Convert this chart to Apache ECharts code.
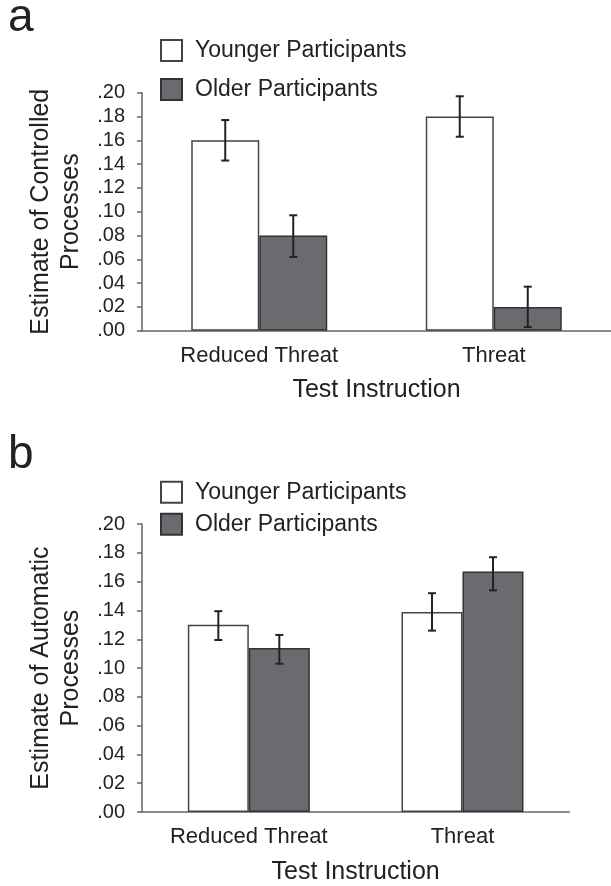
<!DOCTYPE html>
<html>
<head>
<meta charset="utf-8">
<script src="https://cdn.jsdelivr.net/npm/echarts@6/dist/echarts.min.js"></script>
<style>
html,body{margin:0;padding:0;background:#fff;}
#c{width:611px;height:886px;}
</style>
</head>
<body>
<div id="c"></div>
<script>
// ---- data ----
var categories = ['Reduced Threat', 'Threat'];
var seriesNames = ['Younger Participants', 'Older Participants'];
var yTicks = {min: 0, max: 0.20, interval: 0.02};

// panel a: controlled processes
var controlledYounger = [0.160, 0.180];
var controlledOlder = [0.080, 0.020];
var controlledYoungerErr = [[0.143, 0.177], [0.163, 0.197]];
var controlledOlderErr = [[0.062, 0.097], [0.003, 0.037]];

// panel b: automatic processes
var automaticYounger = [0.130, 0.139];
var automaticOlder = [0.114, 0.167];
var automaticYoungerErr = [[0.1195, 0.1395], [0.126, 0.152]];
var automaticOlderErr = [[0.103, 0.123], [0.154, 0.177]];

// ---- styling ----
var FONT = 'Liberation Sans, Arial, Helvetica, sans-serif';
var TXT = '#222';
var AXIS = '#666';
var DARK = '#6a6b6e';
var BW_A = 68, BW_B = 61;

function errData(arr) {
  return arr.map(function (d, i) { return [i, d[0], d[1]]; });
}

function errSeries(name, data, xIdx, yIdx, offset) {
  return {
    type: 'custom',
    name: name + ' error',
    xAxisIndex: xIdx, yAxisIndex: yIdx,
    data: data,
    z: 10,
    silent: true,
    encode: {x: 0, y: [1, 2]},
    renderItem: function (params, api) {
      var i = api.value(0);
      var lo = api.coord([i, api.value(1)]);
      var hi = api.coord([i, api.value(2)]);
      var x = lo[0] + offset;
      var cap = 4;
      var st = {stroke: '#222', lineWidth: 2};
      return {
        type: 'group',
        children: [
          {type: 'line', shape: {x1: x, y1: lo[1], x2: x, y2: hi[1]}, style: st},
          {type: 'line', shape: {x1: x - cap, y1: lo[1], x2: x + cap, y2: lo[1]}, style: st},
          {type: 'line', shape: {x1: x - cap, y1: hi[1], x2: x + cap, y2: hi[1]}, style: st}
        ]
      };
    }
  };
}

function xAxis(gi, nameGap) {
  return {
    type: 'category', gridIndex: gi, data: categories,
    name: 'Test Instruction', nameLocation: 'middle', nameGap: nameGap,
    nameTextStyle: {fontFamily: FONT, fontSize: 25, color: TXT},
    axisLine: {lineStyle: {color: AXIS, width: 1.5}},
    axisTick: {length: 5, lineStyle: {color: AXIS, width: 1.5}},
    axisLabel: {fontFamily: FONT, fontSize: 22, color: TXT, margin: 14}
  };
}

function yAxis(gi, title) {
  return {
    type: 'value', gridIndex: gi,
    min: yTicks.min, max: yTicks.max, interval: yTicks.interval,
    name: title, nameLocation: 'middle', nameRotate: 90, nameGap: 51,
    nameTextStyle: {fontFamily: FONT, fontSize: 25, color: TXT, lineHeight: 30},
    axisLine: {show: true, lineStyle: {color: AXIS, width: 1.5}},
    axisTick: {show: true, length: 5, lineStyle: {color: AXIS, width: 1.5}},
    splitLine: {show: false},
    axisLabel: {
      fontFamily: FONT, fontSize: 20, color: TXT, margin: 17,
      formatter: function (v) { return v.toFixed(2).replace(/^0/, ''); }
    }
  };
}

function barSeries(name, data, gi, bw, dark) {
  return {
    type: 'bar', name: name, xAxisIndex: gi, yAxisIndex: gi,
    data: data, barWidth: bw, barGap: '0%',
    itemStyle: dark
      ? {color: DARK, borderColor: '#333', borderWidth: 1.5}
      : {color: '#fff', borderColor: '#444', borderWidth: 1.5}
  };
}

function legend(top, gap) {
  return {
    data: seriesNames, orient: 'vertical', left: 155, top: top,
    icon: 'rect', itemWidth: 21, itemHeight: 21, itemGap: gap,
    selectedMode: false,
    textStyle: {fontFamily: FONT, fontSize: 23, lineHeight: 21, color: TXT, padding: [0, 0, 0, 8]}
  };
}

var chart = echarts.init(document.getElementById('c'), null, {renderer: 'canvas'});
chart.setOption({
  backgroundColor: '#fff',
  animation: false,
  title: [
    {text: 'a', left: 8, top: -5, padding: 0, textStyle: {fontFamily: FONT, fontSize: 46, fontWeight: 'normal', color: TXT}},
    {text: 'b', left: 8, top: 432, padding: 0, textStyle: {fontFamily: FONT, fontSize: 46, fontWeight: 'normal', color: TXT}}
  ],
  legend: [legend(34, 16), legend(475.7, 9)],
  grid: [
    {left: 142, right: -2, top: 92.7, bottom: 886 - 330.7},
    {left: 142, right: 41.7, top: 524.1, bottom: 886 - 813}
  ],
  xAxis: [xAxis(0, 47), xAxis(1, 48)],
  yAxis: [yAxis(0, 'Estimate of Controlled\nProcesses'), yAxis(1, 'Estimate of Automatic\nProcesses')],
  series: [
    barSeries(seriesNames[0], controlledYounger, 0, BW_A, false),
    barSeries(seriesNames[1], controlledOlder, 0, BW_A, true),
    barSeries(seriesNames[0], automaticYounger, 1, BW_B, false),
    barSeries(seriesNames[1], automaticOlder, 1, BW_B, true),
    errSeries(seriesNames[0], errData(controlledYoungerErr), 0, 0, -BW_A / 2),
    errSeries(seriesNames[1], errData(controlledOlderErr), 0, 0, BW_A / 2),
    errSeries(seriesNames[0], errData(automaticYoungerErr), 1, 1, -BW_B / 2),
    errSeries(seriesNames[1], errData(automaticOlderErr), 1, 1, BW_B / 2)
  ]
});
</script>
</body>
</html>
